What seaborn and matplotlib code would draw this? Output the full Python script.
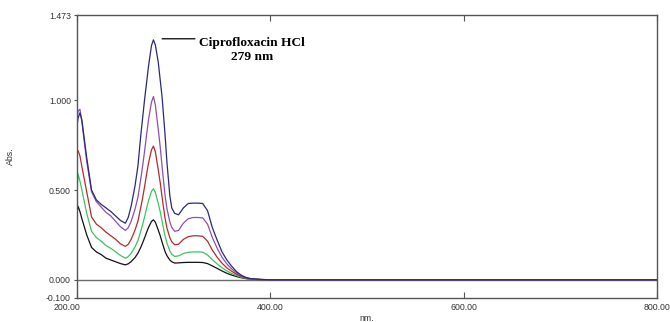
import numpy as np
import pandas as pd
import matplotlib
matplotlib.use("Agg")
import matplotlib.pyplot as plt
import matplotlib.transforms as mtransforms
import seaborn as sns

# ---- data ----
wavelength = [200, 201, 203, 205, 210, 215, 220, 225, 230, 235, 240, 245, 250,
              253, 256, 260, 263, 266, 268, 270, 272, 274, 277, 279, 281, 284, 286, 288, 291, 293, 296, 298, 301,
              305, 310, 315, 320, 325, 330, 335, 340, 345, 350, 355, 360, 365, 370, 375, 380,
              390, 400, 450, 500, 550, 600, 650, 700, 750, 800]

abs_black = [0.37, 0.41, 0.38, 0.34, 0.25, 0.18, 0.155, 0.14, 0.12, 0.11, 0.10, 0.09, 0.083,
             0.089, 0.101, 0.124, 0.148, 0.182, 0.208, 0.235, 0.265, 0.292, 0.325, 0.334, 0.321, 0.277, 0.246, 0.209, 0.158, 0.134, 0.11, 0.10, 0.093,
             0.094, 0.096, 0.097, 0.097, 0.097, 0.096, 0.09, 0.077, 0.063, 0.049, 0.036, 0.026, 0.018, 0.011, 0.006, 0.003,
             0.001, 0.0, 0.0, 0.0, 0.0, 0.0, 0.0, 0.0, 0.0, 0.0]

abs_green = [0.50, 0.59, 0.55, 0.50, 0.37, 0.27, 0.235, 0.215, 0.19, 0.175, 0.155, 0.135, 0.12,
             0.129, 0.148, 0.183, 0.219, 0.272, 0.311, 0.353, 0.40, 0.442, 0.493, 0.507, 0.487, 0.425, 0.38, 0.325, 0.245, 0.205, 0.16, 0.143, 0.13,
             0.133, 0.146, 0.153, 0.155, 0.155, 0.154, 0.138, 0.112, 0.088, 0.067, 0.049, 0.035, 0.024, 0.014, 0.007, 0.003,
             0.001, 0.0, 0.0, 0.0, 0.0, 0.0, 0.0, 0.0, 0.0, 0.0]

abs_red = [0.70, 0.72, 0.69, 0.63, 0.49, 0.35, 0.31, 0.29, 0.265, 0.245, 0.225, 0.20, 0.186,
           0.198, 0.226, 0.277, 0.327, 0.405, 0.461, 0.523, 0.59, 0.651, 0.724, 0.745, 0.714, 0.614, 0.543, 0.459, 0.344, 0.288, 0.234, 0.212, 0.195,
           0.198, 0.225, 0.24, 0.245, 0.245, 0.242, 0.215, 0.165, 0.125, 0.092, 0.066, 0.047, 0.031, 0.018, 0.009, 0.004,
           0.001, 0.0, 0.0, 0.0, 0.0, 0.0, 0.0, 0.0, 0.0, 0.0]

abs_purple = [0.90, 0.94, 0.95, 0.88, 0.66, 0.49, 0.435, 0.405, 0.375, 0.355, 0.325, 0.295, 0.275,
              0.29, 0.326, 0.394, 0.46, 0.565, 0.64, 0.722, 0.812, 0.894, 0.99, 1.021, 0.975, 0.839, 0.742, 0.63, 0.472, 0.397, 0.322, 0.292, 0.27,
              0.275, 0.315, 0.34, 0.347, 0.347, 0.345, 0.31, 0.235, 0.175, 0.125, 0.088, 0.06, 0.038, 0.022, 0.011, 0.005,
              0.001, 0.0, 0.0, 0.0, 0.0, 0.0, 0.0, 0.0, 0.0, 0.0]

abs_navy = [0.86, 0.90, 0.93, 0.89, 0.68, 0.50, 0.445, 0.42, 0.40, 0.38, 0.355, 0.33, 0.315,
            0.348, 0.411, 0.524, 0.635, 0.808, 0.909, 1.011, 1.101, 1.193, 1.305, 1.337, 1.309, 1.213, 1.115, 1.017, 0.811, 0.654, 0.467, 0.40, 0.37,
            0.362, 0.40, 0.425, 0.427, 0.427, 0.425, 0.385, 0.29, 0.22, 0.155, 0.11, 0.075, 0.045, 0.025, 0.012, 0.006,
            0.002, 0.0, 0.0, 0.0, 0.0, 0.0, 0.0, 0.0, 0.0, 0.0]

series_names = ["black", "green", "red", "purple", "navy"]
series_colors = ["#111111", "#3fc25e", "#b52a2a", "#8f4fae", "#2a2a7a"]

x_ticks = [200, 400, 600, 800]
x_tick_labels = ["200.00", "400.00", "600.00", "800.00"]
y_ticks = [-0.100, 0.000, 0.500, 1.000, 1.473]
y_tick_labels = ["-0.100", "0.000", "0.500", "1.000", "1.473"]

peak_label = "Ciprofloxacin HCl\n279 nm"

# ---- build long-form table ----
frames = []
for name, vals in zip(series_names, [abs_black, abs_green, abs_red, abs_purple, abs_navy]):
    frames.append(pd.DataFrame({"nm": wavelength, "Abs": vals, "sample": name}))
df = pd.concat(frames, ignore_index=True)

sns.set_style("white")
plt.rcParams["font.family"] = ["Liberation Sans", "DejaVu Sans"]

fig = plt.figure(figsize=(6.7, 3.22), dpi=100)
ax = fig.add_axes([0.115, 0.0755, 0.8656, 0.8765])

ax.axhline(0, color="#6a6a6a", lw=1.0, zorder=1)

sns.lineplot(data=df, x="nm", y="Abs", hue="sample", hue_order=series_names,
             palette=dict(zip(series_names, series_colors)), linewidth=0.9,
             legend=False, ax=ax, sort=False, zorder=2)

ax.set_xlim(200, 800)
ax.set_ylim(-0.100, 1.473)
ax.set_xticks(x_ticks)
ax.set_xticklabels(x_tick_labels)
ax.set_yticks(y_ticks)
ax.set_yticklabels(y_tick_labels)

ax.tick_params(axis="x", direction="in", length=4, width=0.8, top=True, bottom=True,
               labelsize=6.3, labelcolor="#333333", color="#555555", pad=4)
ax.tick_params(axis="y", direction="out", length=2.5, width=0.8, left=True,
               labelsize=6.3, labelcolor="#333333", color="#555555", pad=2)

# first x label sits a bit left of its tick in the reference
lbl0 = ax.get_xticklabels()[0]
lbl0.set_transform(lbl0.get_transform() + mtransforms.ScaledTranslation(-10 / 100, 0, fig.dpi_scale_trans))

for sp in ax.spines.values():
    sp.set_color("#555555")
    sp.set_linewidth(1.0)

ax.set_xlabel("nm.", fontsize=6.3, color="#333333", labelpad=1)
ax.set_ylabel("Abs.", fontsize=6.3, color="#333333", labelpad=22)

ax.annotate("", xy=(288, 1.343), xytext=(322, 1.343),
            arrowprops=dict(arrowstyle="-", color="black", lw=0.9, shrinkA=0, shrinkB=0))
ax.text(381, 1.28, peak_label, ha="center", va="center", fontsize=9.6, fontweight="bold",
        family=["Liberation Serif", "DejaVu Serif"], linespacing=1.3, color="black")

fig.savefig("out.png", dpi=100)
